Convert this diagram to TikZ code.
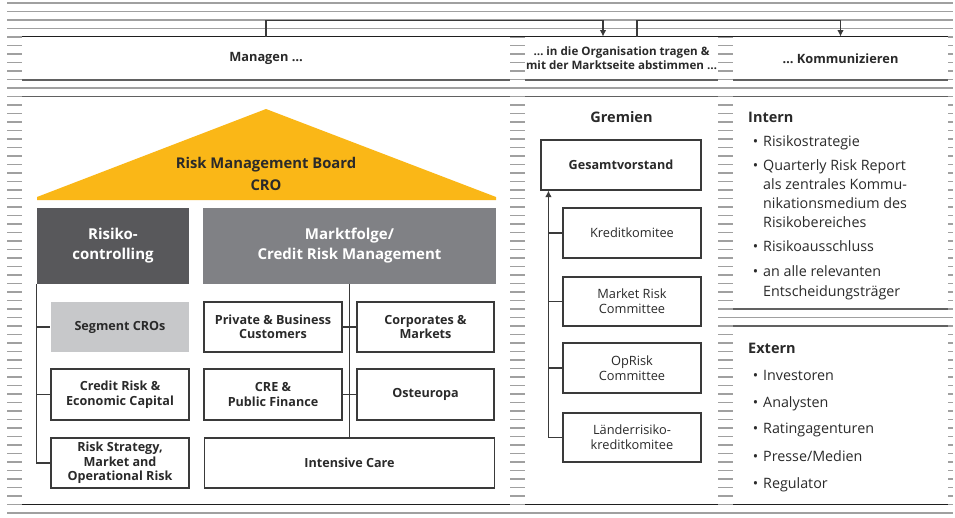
\documentclass[tikz,border=0pt]{standalone}
\usepackage{fontspec}
\setmainfont{Open Sans}
\usetikzlibrary{arrows.meta,calc}

\definecolor{rule}{HTML}{A0A0A0}
\definecolor{edge}{HTML}{3A3A3A}
\definecolor{ink}{HTML}{2A2A2A}
\definecolor{roofyellow}{HTML}{FAB717}
\definecolor{darkgrey}{HTML}{58585B}
\definecolor{midgrey}{HTML}{808185}
\definecolor{lightgrey}{HTML}{C7C8CA}

\tikzset{
  bgrule/.style={draw=rule, line width=1.2pt},
  edgetop/.style={draw=black!88, line width=1.3pt},
  edgesep/.style={draw=black!62, line width=1.3pt},
  panel/.style={fill=white, inner sep=0pt, text=ink, align=center,
    font=\fontsize{12.8}{14}\selectfont\bfseries},
  orgbox/.style={draw=edge, line width=1.1pt, fill=white, text=ink,
    align=center, inner sep=0pt,
    font=\fontsize{12.6}{14.5}\selectfont\bfseries},
  unitbox/.style={inner sep=0pt, text=white, align=center,
    font=\fontsize{15}{20}\selectfont\bfseries},
  committee/.style={orgbox, font=\fontsize{12.8}{15}\selectfont},
  wire/.style={draw=edge, line width=1.1pt},
  arrowwire/.style={wire, -{Latex[length=6.5pt,width=6.5pt]}},
  heading/.style={text=ink, inner sep=0pt,
    font=\fontsize{14.5}{18}\selectfont\bfseries},
  listline/.style={text=ink, inner sep=0pt, anchor=base west,
    font=\fontsize{14.3}{19}\selectfont},
}
\newcommand{\dotitem}{\llap{\textbullet\hspace{5pt}}}

\begin{document}
\begin{tikzpicture}[x=1pt,y=-1pt]
\useasboundingbox (0,0) rectangle (955,517);

% ruled background
\foreach \k in {0,...,60}
  \draw[bgrule] (7,3+8.5*\k) -- (953,3+8.5*\k);

% header row
\node[panel, minimum width=488pt, minimum height=43pt] (h1) at (266,58.25) {Managen …};
\node[panel, minimum width=193pt, minimum height=43pt,
  font=\fontsize{11.6}{14}\selectfont\bfseries] (h2) at (621.5,58.25)
  {… in die Organisation tragen \&\\mit der Marktseite abstimmen …};
\node[panel, minimum width=215pt, minimum height=43pt] (h3) at (840.5,58.25) {… Kommunizieren};
\draw[edgetop] (h1.north west) -- (h3.north east);
\foreach \p in {h1,h2,h3}
  \draw[edgesep] (\p.south west) -- (\p.south east);

% main panels
\fill[white] (22,96.5) rectangle (510,504.5);
\fill[white] (525,96.5) rectangle (718,504.5);
\fill[white] (733,96.5) rectangle (948,309);
\fill[white] (733,326) rectangle (948,504.5);
\foreach \a/\b in {22/510,525/718,733/948}{
  \draw[edgesep] (\a,96.5) -- (\b,96.5);
  \draw[edgetop] (\a,504.5) -- (\b,504.5);
}
\draw[edgesep] (733,309) -- (948,309);
\draw[edgesep] (733,326) -- (948,326);

% flow between the header steps
\draw[arrowwire] (h1.north) -- ++(0,-16) -| ([xshift=-18.5pt]h2.north);
\draw[arrowwire] ([xshift=15.5pt]h2.north) -- ++(0,-16) -| (h3.north);

% roof
\fill[roofyellow] (37,200) -- (37,197) -- (266,109) -- (496,197) -- (496,200) -- cycle;
\node[text=ink, align=center, inner sep=0pt,
  font=\fontsize{14.8}{22}\selectfont\bfseries] (rmb) at (266,174)
  {Risk Management Board\\CRO};

% units
\node[unitbox, fill=darkgrey, minimum width=152pt, minimum height=76pt] (rc) at (113,246)
  {Risiko-\\controlling};
\node[unitbox, fill=midgrey, minimum width=293pt, minimum height=76pt] (mf) at (349.5,246)
  {Marktfolge/\\Credit Risk Management};

% Risikocontrolling departments
\node[orgbox, draw=none, fill=lightgrey, minimum width=138pt, minimum height=50pt] (seg) at (120,327)
  {Segment CROs};
\node[orgbox, minimum width=138pt, minimum height=51pt] (crec) at (120,394.5)
  {Credit Risk \&\\Economic Capital};
\node[orgbox, minimum width=138pt, minimum height=50pt] (rsmo) at (120,463)
  {Risk Strategy,\\Market and\\Operational Risk};
\draw[wire] (rc.south west) |- (rsmo.west);
\draw[wire] (seg.west -| rc.south west) -- (seg.west);
\draw[wire] (crec.west -| rc.south west) -- (crec.west);

% Marktfolge departments
\node[orgbox, minimum width=138pt, minimum height=50pt] (pbc) at (273,327)
  {Private \& Business\\Customers};
\node[orgbox, minimum width=137pt, minimum height=50pt] (corp) at (425.5,327)
  {Corporates \&\\Markets};
\node[orgbox, minimum width=138pt, minimum height=51pt] (cre) at (273,394.5)
  {CRE \&\\Public Finance};
\node[orgbox, minimum width=137pt, minimum height=51pt] (ost) at (425.5,394.5)
  {Osteuropa};
\node[orgbox, minimum width=290pt, minimum height=50pt] (ic) at (349.5,463)
  {Intensive Care};
\draw[wire] (mf.south) -- (ic.north);
\draw[wire] (pbc.east) -- (corp.west);
\draw[wire] (cre.east) -- (ost.west);

% committees
\node[heading] (grem) at (621.5,117) {Gremien};
\node[orgbox, minimum width=160pt, minimum height=50pt] (gv) at (621,165) {Gesamtvorstand};
\node[committee, minimum width=138pt, minimum height=50pt] (kk) at (632,233) {Kreditkomitee};
\node[committee, minimum width=138pt, minimum height=49pt] (mrc) at (632,301.5) {Market Risk\\Committee};
\node[committee, minimum width=138pt, minimum height=50pt] (opr) at (632,368) {OpRisk\\Committee};
\node[committee, minimum width=138pt, minimum height=49pt] (lrk) at (632,437.5) {Länderrisiko-\\kreditkomitee};
\coordinate (trunk) at ([xshift=8pt]gv.south west);
\draw[arrowwire] (lrk.west) -| (trunk);
\foreach \c in {kk,mrc,opr}
  \draw[wire] (\c.west -| trunk) -- (\c.west);

% internal communication
\node[heading, anchor=base west] (intern) at (748,122) {Intern};
\node[listline] (i1) at (763,146) {\dotitem Risikostrategie};
\node[listline] (i2a) at (763,170) {\dotitem Quarterly Risk Report};
\node[listline] (i2b) at (763,189) {als zentrales Kommu-};
\node[listline] (i2c) at (763,208) {nikationsmedium des};
\node[listline] (i2d) at (763,227) {Risikobereiches};
\node[listline] (i3) at (763,251) {\dotitem Risikoausschluss};
\node[listline] (i4a) at (763,276) {\dotitem an alle relevanten};
\node[listline] (i4b) at (763,296) {Entscheidungsträger};

% external communication
\node[heading, anchor=base west] (extern) at (748,353) {Extern};
\node[listline] (e1) at (763,380) {\dotitem Investoren};
\node[listline] (e2) at (763,407) {\dotitem Analysten};
\node[listline] (e3) at (763,433) {\dotitem Ratingagenturen};
\node[listline] (e4) at (763,461) {\dotitem Presse/Medien};
\node[listline] (e5) at (763,488) {\dotitem Regulator};
\end{tikzpicture}
\end{document}
